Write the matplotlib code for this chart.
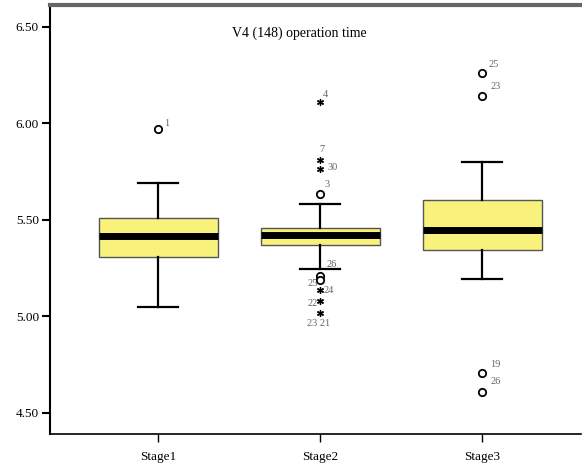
import matplotlib.pyplot as plt

plt.rcParams['font.family'] = ['Liberation Serif', 'DejaVu Serif']

stages = ['Stage1', 'Stage2', 'Stage3']
whislo = [5.047, 5.245, 5.195]
q1 = [5.31, 5.37, 5.345]
med = [5.415, 5.42, 5.45]
q3 = [5.508, 5.46, 5.605]
whishi = [5.689, 5.58, 5.80]

# outliers (circles) and extremes (stars) with their case numbers
out_stage = [1, 2, 2, 2, 3, 3, 3, 3]
out_vals = [5.97, 5.635, 5.21, 5.19, 6.26, 6.14, 4.705, 4.61]
out_ids = ['1', '3', '26', '25', '25', '23', '19', '26']

ext_stage = [2, 2, 2, 2, 2, 2]
ext_vals = [6.11, 5.81, 5.765, 5.135, 5.08, 5.015]
ext_ids = ['4', '7', '30', '24', '22', '23 21']

# label offsets in pixels (dx, dy)
out_off = [(6, 6), (4, 9), (6, 11), (-13, -4), (6, 9), (8, 10), (8, 9), (8, 10)]
ext_off = [(3, 8), (-1, 11), (7, 1), (3, 0), (-13, -3), (-13, -10)]

fig = plt.figure(figsize=(5.82, 4.66), dpi=100)
ax = fig.add_axes([50 / 582, 32 / 466, 531 / 582, 429 / 466])

stats = []
for i in range(3):
    stats.append(dict(whislo=whislo[i], q1=q1[i], med=med[i], q3=q3[i],
                      whishi=whishi[i], fliers=[], label=stages[i]))

ax.bxp(stats, positions=[1, 2, 3], widths=0.735, patch_artist=True,
       showfliers=False,
       boxprops=dict(facecolor='#f8f27c', edgecolor='#555555', linewidth=1),
       medianprops=dict(color='black', linewidth=5, solid_capstyle='butt'),
       whiskerprops=dict(color='black', linewidth=1.6),
       capprops=dict(color='black', linewidth=1.6),
       capwidths=0.25)

ax.scatter(out_stage, out_vals, s=28, facecolors='white', edgecolors='black',
           linewidths=1.3, zorder=4)
ax.scatter(ext_stage, ext_vals, s=18, marker=(6, 2, 0), color='black',
           linewidths=1.0, zorder=4)

px_x = 1 / 162
px_y = 1 / 193
for s, v, t, (dx, dy) in zip(out_stage, out_vals, out_ids, out_off):
    ax.text(s + dx * px_x, v + dy * px_y, t, fontsize=7.5, color='#666666',
            va='center', ha='left')
for s, v, t, (dx, dy) in zip(ext_stage, ext_vals, ext_ids, ext_off):
    ax.text(s + dx * px_x, v + dy * px_y, t, fontsize=7.5, color='#666666',
            va='center', ha='left')

ax.set_xlim(0.333, 3.61)
ax.set_ylim(4.39, 6.614)
ax.set_yticks([4.5, 5.0, 5.5, 6.0, 6.5])
ax.set_yticklabels(['4.50', '5.00', '5.50', '6.00', '6.50'])
ax.set_xticks([1, 2, 3])
ax.set_xticklabels(stages)
ax.tick_params(axis='y', length=6, width=1.5, labelsize=9.5, pad=2)
ax.tick_params(axis='x', length=6, width=1, labelsize=9.5, pad=6)

ax.spines['right'].set_visible(False)
ax.spines['top'].set_color('#666666')
ax.spines['top'].set_linewidth(3)
ax.spines['left'].set_linewidth(1.5)
ax.spines['bottom'].set_linewidth(1.2)

ax.text(0.47, 0.935, 'V4 (148) operation time', transform=ax.transAxes,
        ha='center', va='center', fontsize=10)

fig.savefig('out.png', dpi=100)
